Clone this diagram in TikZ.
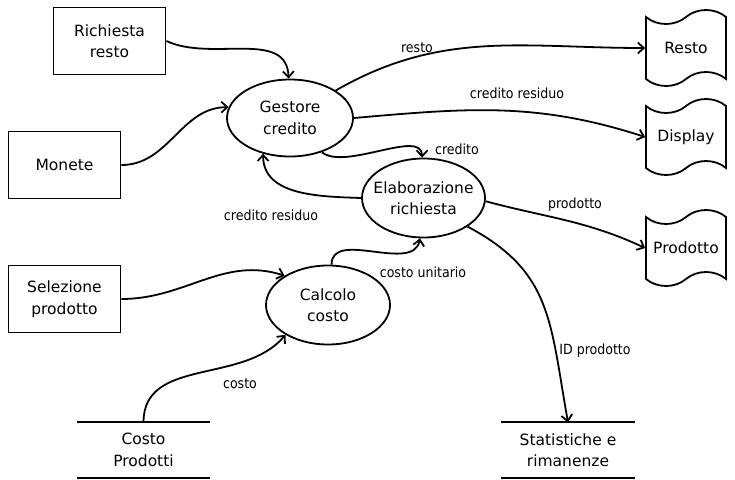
\documentclass[tikz,border=0pt]{standalone}
\usepackage{fontspec}
\setmainfont{DejaVu Sans}
\newfontfamily\dfdcondfont{DejaVu Sans Condensed}
\usetikzlibrary{shapes.geometric,shapes.symbols,arrows.meta}
\newcommand{\dfdnodefont}{\fontsize{15.5}{21.5}\selectfont}
\newcommand{\dfdlabelfont}{\dfdcondfont\fontsize{14}{16}\selectfont}

\tikzset{
  entity/.style={draw, line width=1.8pt, minimum width=112pt, minimum height=67pt,
                 align=center, font=\dfdnodefont},
  process/.style={ellipse, draw, line width=1.8pt, inner sep=-10pt,
                  align=center, font=\dfdnodefont},
  docout/.style={tape, draw, line width=1.8pt, minimum width=80pt, minimum height=76pt,
                 tape bend height=14pt, inner sep=0pt, font=\dfdnodefont},
  datastore/.style={minimum width=133pt, minimum height=55pt, align=center,
                    font=\dfdnodefont},
  flow/.style={line width=1.8pt, -{Straight Barb[length=6pt,width=11pt]}},
  flowlabel/.style={font=\dfdlabelfont, inner sep=1pt}
}

\begin{document}
\begin{tikzpicture}[x=1pt,y=1pt]
\useasboundingbox (0,0) rectangle (735,-479);

%External entities
\node[entity] (rr) at (109.5,-41) {Richiesta\\resto};
\node[entity] (mo) at (64.5,-165) {Monete};
\node[entity] (sp) at (64.5,-299) {Selezione\\prodotto};

%Processes
\node[process, minimum width=126pt, minimum height=77pt] (gc) at (290,-118) {Gestore\\credito};
\node[process, minimum width=123pt, minimum height=79pt] (er) at (423.5,-198) {Elaborazione\\richiesta};
\node[process, minimum width=124pt, minimum height=79pt] (cc) at (328,-305) {Calcolo\\costo};

%Outputs
\node[docout] (dr) at (686,-48) {Resto};
\node[docout] (dp) at (686,-137) {Display};
\node[docout] (dpr) at (686,-248) {Prodotto};

%Data stores
\node[datastore] (cp) at (143.5,-450) {Costo\\Prodotti};
\node[datastore] (st) at (568,-450) {Statistiche e\\rimanenze};
\draw[line width=1.8pt] (cp.north west) -- (cp.north east)
                        (cp.south west) -- (cp.south east);
\draw[line width=1.8pt] (st.north west) -- (st.north east)
                        (st.south west) -- (st.south east);

%Flows
\draw[flow] (rr.east) to[out=-25, in=92] (gc.92);
\draw[flow] (mo.east) to[out=0, in=180] (gc.170);
\draw[flow] (gc.31) to[out=30, in=180] (dr.west);
\draw[flow] (gc.east) to[out=5, in=162] (dp.west);
\draw[flow] (gc.-47) to[out=-40, in=90, looseness=0.75] (er.92);
\draw[flow] (er.west) to[out=178, in=-90] (gc.-127);
\draw[flow] (er.-3) to[out=-15, in=155] (dpr.west);
\draw[flow] (er.-33) .. controls +(85,-45) and +(-18,100) .. (st.north);
\draw[flow] (sp.east) to[out=0, in=162] (cc.146);
\draw[flow] (cc.85) to[out=90, in=-100] (er.-95);
\draw[flow] (cp.north) to[out=90, in=-130] (cc.-145);

%Flow labels
\node[flowlabel] (lresto) at (417,-48) {resto};
\node[flowlabel] (lcredres) at (517,-93) {credito residuo};
\node[flowlabel] (lcredito) at (457,-149) {credito};
\node[flowlabel] (lcredback) at (271,-215) {credito residuo};
\node[flowlabel] (lprod) at (575,-205) {prodotto};
\node[flowlabel] (lcostoun) at (423,-272) {costo unitario};
\node[flowlabel] (lidprod) at (595,-351) {ID prodotto};
\node[flowlabel] (lcosto) at (240,-384) {costo};
\end{tikzpicture}
\end{document}
